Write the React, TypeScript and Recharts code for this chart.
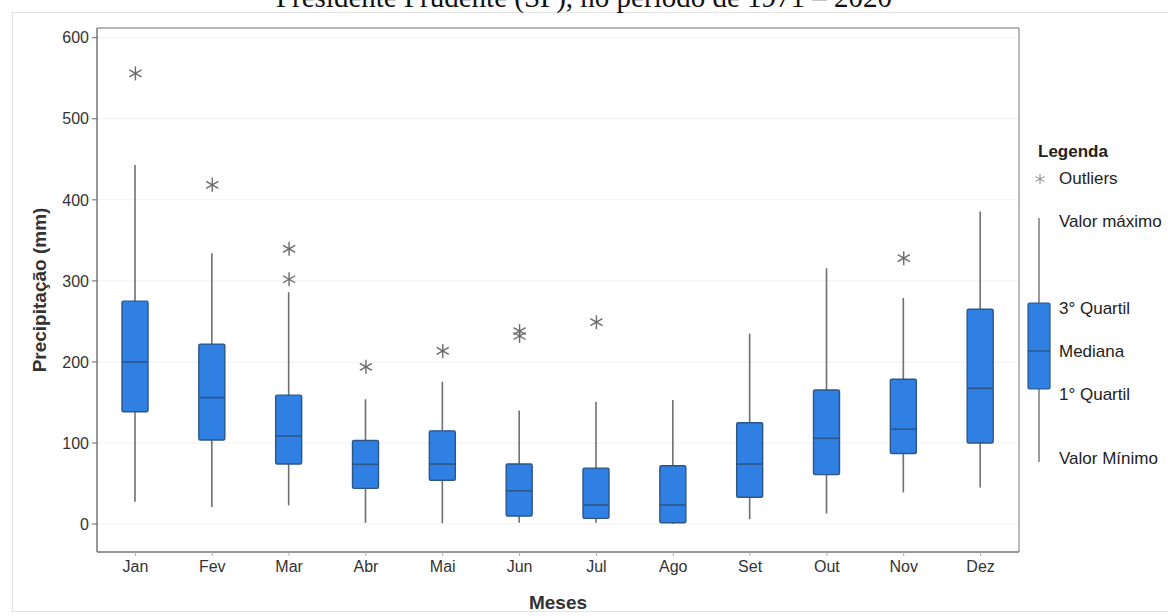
import {
  ComposedChart,
  Bar,
  Scatter,
  XAxis,
  YAxis,
  CartesianGrid,
  ReferenceArea,
} from "recharts";

const months = ["Jan", "Fev", "Mar", "Abr", "Mai", "Jun", "Jul", "Ago", "Set", "Out", "Nov", "Dez"];
const minValues = [27.5, 21, 23, 1.6, 1, 1.7, 1.6, 0.5, 6, 13, 39, 45];
const q1Values = [138.6, 103.7, 74, 44, 54, 10, 7, 1.6, 33, 61, 87, 100];
const medianValues = [200, 156, 108.6, 73.7, 74, 41, 23.5, 23.5, 74, 105.8, 117, 167.5];
const q3Values = [275, 222, 159, 103, 115, 74, 69, 72, 125, 165.4, 178.6, 265];
const maxValues = [443, 334, 286, 154, 175.7, 140, 151, 153, 235, 315.6, 279, 385.6];

const outlierMonths = ["Jan", "Fev", "Mar", "Mar", "Abr", "Mai", "Jun", "Jun", "Jul", "Nov"];
const outlierValues = [556, 418.5, 339.5, 302, 194, 213.6, 238, 232, 249, 328];

const yTicks = [0, 100, 200, 300, 400, 500, 600];
const legendLabels = ["Outliers", "Valor máximo", "3° Quartil", "Mediana", "1° Quartil", "Valor Mínimo"];

const boxData = months.map((m, i) => ({
  month: m,
  min: minValues[i],
  q1: q1Values[i],
  median: medianValues[i],
  q3: q3Values[i],
  max: maxValues[i],
  range: [minValues[i], maxValues[i]],
}));

const outlierData = outlierMonths.map((m, i) => ({ month: m, value: outlierValues[i] }));

const BOX_FILL = "#2f80e2";
const BOX_STROKE = "#2c5688";
const WHISKER = "#707070";
const STAR = "#6a6a6a";

const BoxShape = (props: any) => {
  const { x, y, width, height, payload } = props;
  const top = Math.min(y, y + height);
  const span = Math.abs(height);
  const range = payload.max - payload.min;
  const k = range > 0 ? span / range : 0;
  const py = (v: number) => top + (payload.max - v) * k;
  const cx = x + width / 2;
  return (
    <g>
      <line x1={cx} x2={cx} y1={py(payload.max)} y2={py(payload.min)} stroke={WHISKER} strokeWidth={1.6} />
      <rect
        x={x}
        y={py(payload.q3)}
        width={width}
        height={Math.max(py(payload.q1) - py(payload.q3), 1)}
        rx={1.5}
        fill={BOX_FILL}
        stroke={BOX_STROKE}
        strokeWidth={1.4}
      />
      <line
        x1={x}
        x2={x + width}
        y1={py(payload.median)}
        y2={py(payload.median)}
        stroke={BOX_STROKE}
        strokeWidth={1.6}
      />
    </g>
  );
};

function Star({ cx, cy, r = 7, color = STAR, w = 1.4 }: any) {
  const dx = r * Math.cos(Math.PI / 6);
  const dy = r * Math.sin(Math.PI / 6);
  return (
    <g stroke={color} strokeWidth={w}>
      <line x1={cx} x2={cx} y1={cy - r} y2={cy + r} />
      <line x1={cx - dx} x2={cx + dx} y1={cy - dy} y2={cy + dy} />
      <line x1={cx - dx} x2={cx + dx} y1={cy + dy} y2={cy - dy} />
    </g>
  );
}

const font = "'Liberation Sans', Arial, sans-serif";

function LegendPanel() {
  const tx = 1059;
  return (
    <svg
      width={1168}
      height={616}
      style={{ position: "absolute", left: 0, top: 0, pointerEvents: "none" }}
      fontFamily={font}
    >
      <text x={1038} y={157} fontSize={17} fontWeight="bold" fill="#222">
        Legenda
      </text>
      <Star cx={1040} cy={179} r={5} color="#888" w={1} />
      <text x={tx} y={184} fontSize={17} fill="#222">{legendLabels[0]}</text>
      <line x1={1039} x2={1039} y1={218} y2={462} stroke={WHISKER} strokeWidth={1.4} />
      <rect x={1028} y={303} width={22} height={86} rx={1.5} fill={BOX_FILL} stroke={BOX_STROKE} strokeWidth={1.2} />
      <line x1={1028} x2={1050} y1={351} y2={351} stroke={BOX_STROKE} strokeWidth={1.4} />
      <text x={tx} y={227} fontSize={17} fill="#222">{legendLabels[1]}</text>
      <text x={tx} y={314} fontSize={17} fill="#222">{legendLabels[2]}</text>
      <text x={tx} y={357} fontSize={17} fill="#222">{legendLabels[3]}</text>
      <text x={tx} y={400} fontSize={17} fill="#222">{legendLabels[4]}</text>
      <text x={tx} y={464} fontSize={17} fill="#222">{legendLabels[5]}</text>
    </svg>
  );
}

export default function App() {
  return (
    <div
      style={{
        position: "absolute",
        left: 0,
        top: 0,
        width: 1168,
        height: 616,
        background: "#fff",
        overflow: "hidden",
      }}
    >
      <div
        style={{
          position: "absolute",
          left: 12,
          top: 12,
          width: 1170,
          height: 598,
          border: "1px solid #e4e4e4",
        }}
      />
      <div
        style={{
          position: "absolute",
          left: 0,
          top: -17,
          width: 1168,
          textAlign: "center",
          fontFamily: "'Liberation Serif', 'Times New Roman', serif",
          fontSize: 29,
          lineHeight: "29px",
          color: "#111",
          whiteSpace: "nowrap",
        }}
      >
        Presidente Prudente (SP), no período de 1971 – 2020
      </div>
      <div style={{ position: "absolute", left: 0, top: 0 }}>
        <ComposedChart
          width={1168}
          height={616}
          data={boxData}
          margin={{ top: 28, right: 149, bottom: 0, left: 37 }}
        >
          <CartesianGrid horizontal vertical={false} stroke="#f1f1f1" />
          <XAxis
            dataKey="month"
            allowDuplicatedCategory={false}
            height={64}
            tick={{ fontSize: 16, fill: "#333", fontFamily: font }}
            tickSize={4}
            tickMargin={5}
            tickLine={{ stroke: "#aaa" }}
            axisLine={{ stroke: "#777" }}
            label={{
              value: "Meses",
              position: "center",
              dy: 18,
              fontSize: 19,
              fontWeight: "bold",
              fill: "#333",
              fontFamily: font,
            }}
          />
          <YAxis
            type="number"
            domain={[-34.5, 612]}
            allowDataOverflow
            ticks={yTicks}
            width={60}
            tick={{ fontSize: 16, fill: "#333", fontFamily: font }}
            tickSize={5}
            tickMargin={3}
            tickLine={{ stroke: "#666" }}
            axisLine={{ stroke: "#777" }}
            label={{
              value: "Precipitação (mm)",
              angle: -90,
              position: "center",
              dx: -28,
              fontSize: 19,
              fontWeight: "bold",
              fill: "#333",
              fontFamily: font,
            }}
          />
          <ReferenceArea y1={-34.5} y2={612} fill="none" stroke="#777" strokeWidth={1} ifOverflow="visible" />
          <Bar dataKey="range" barSize={26} shape={BoxShape} isAnimationActive={false} />
          <Scatter data={outlierData} dataKey="value" shape={(p: any) => <Star cx={p.cx} cy={p.cy} />} isAnimationActive={false} />
        </ComposedChart>
      </div>
      <LegendPanel />
    </div>
  );
}
